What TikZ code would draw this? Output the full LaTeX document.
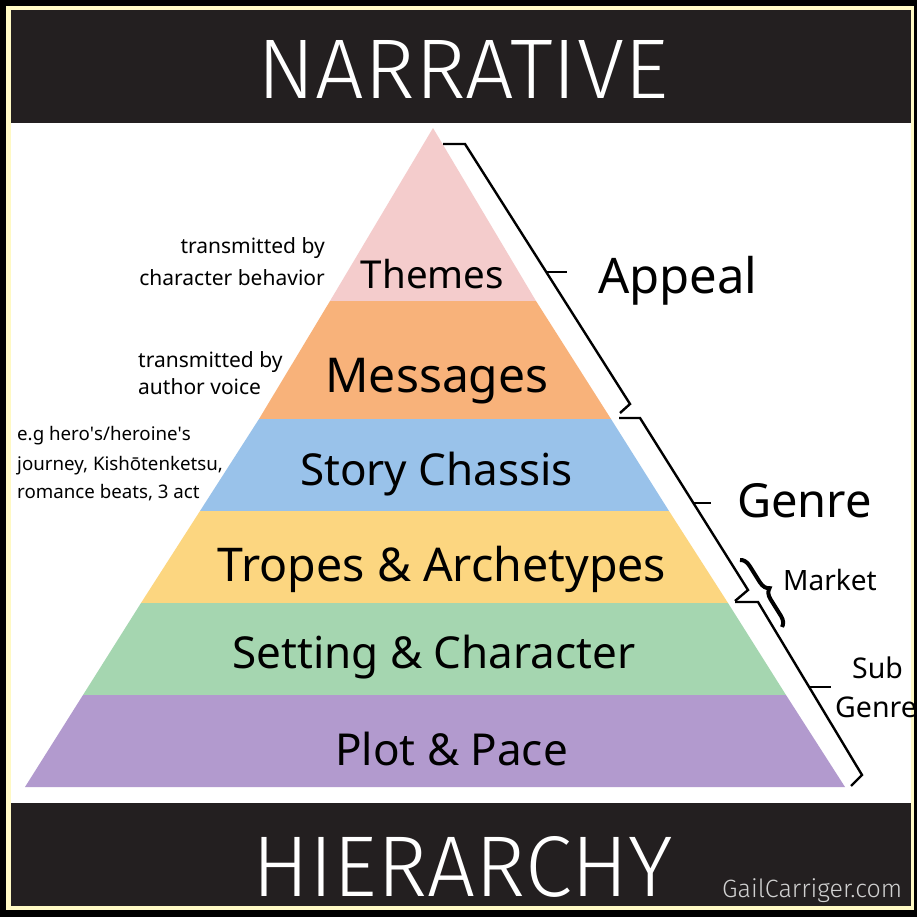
\documentclass[tikz,border=0pt]{standalone}
\usepackage{fontspec}
\setmainfont{Noto Sans}
\IfFontExistsTF{Fira Sans Light}
  {\newfontfamily\bannerfont{Fira Sans Light}}
  {\newfontfamily\bannerfont{Noto Sans}}
\usetikzlibrary{decorations.pathreplacing,positioning}

\definecolor{themepink}{RGB}{244,204,204}
\definecolor{msgorange}{RGB}{248,178,122}
\definecolor{chassisblue}{RGB}{153,194,234}
\definecolor{tropeyellow}{RGB}{252,214,128}
\definecolor{settinggreen}{RGB}{165,214,176}
\definecolor{plotpurple}{RGB}{178,154,206}
\definecolor{bannerdark}{RGB}{35,31,32}
\definecolor{rimyellow}{RGB}{255,249,196}

\tikzset{x=1pt,y=-1pt}
\tikzset{layer text/.style={anchor=base,inner sep=0pt,font=\fontsize{#1}{#1}\selectfont}}
\tikzset{note right/.style={anchor=base east,inner sep=0pt,font=\fontsize{21}{26}\selectfont}}
\tikzset{note left/.style={anchor=base west,inner sep=0pt,font=\fontsize{#1}{#1}\selectfont}}
\tikzset{bracket/.style={draw=black,line width=2.4pt,line join=miter}}
\tikzset{banner/.style={fill=bannerdark}}

\begin{document}
\begin{tikzpicture}
    \useasboundingbox (0,0) rectangle (917,917);
    % frame and banners
    \fill[black] (0,0) rectangle (917,917);
    \fill[rimyellow] (6,6) rectangle (914,910);
    \fill[white] (11,10) rectangle (911,906);
    \fill[banner] (11,10) rectangle (911,123);
    \fill[banner] (11,803) rectangle (911,906);
    \node[inner sep=0pt,text=white] (title) at (463,69)
        {\resizebox{410pt}{58pt}{\bannerfont NARRATIVE}};
    \node[inner sep=0pt,text=white] (subtitle) at (463,867)
        {\resizebox{420pt}{60pt}{\bannerfont HIERARCHY}};
    \node[anchor=base west,inner sep=0pt,text=black!18] (site) at (722,897)
        {\resizebox{180pt}{!}{\bannerfont GailCarriger.com}};

    % pyramid layers
    \fill[themepink] (433,128) -- (536,301) -- (330,301) -- cycle;
    \fill[msgorange] (330,301) -- (536,301) -- (611,419) -- (259,419) -- cycle;
    \fill[chassisblue] (259,419) -- (611,419) -- (669,511) -- (200,511) -- cycle;
    \fill[tropeyellow] (200,511) -- (669,511) -- (728,603) -- (141,603) -- cycle;
    \fill[settinggreen] (141,603) -- (728,603) -- (786,695) -- (83,695) -- cycle;
    \fill[plotpurple] (83,695) -- (786,695) -- (845,787) -- (25,787) -- cycle;

    \node[layer text=38.5] (themes) at (432.5,288) {Themes};
    \node[layer text=48] (messages) at (437,392) {Messages};
    \node[layer text=44] (chassis) at (436.5,485) {Story Chassis};
    \node[layer text=46.5] (tropes) at (442,581) {Tropes \& Archetypes};
    \node[layer text=44] (setting) at (434,668) {Setting \& Character};
    \node[layer text=44] (plot) at (451.5,765) {Plot \& Pace};

    % notes on the left
    \node[note right] (themenote1) at (325,253) {transmitted by};
    \node[note right] (themenote2) at (325,285) {character behavior};
    \node[note left=21] (msgnote1) at (138,367) {transmitted by};
    \node[note left=21] (msgnote2) at (138,394) {author voice};
    \node[note left=18.7] (chassisnote1) at (17,440) {e.g hero\textquotesingle s/heroine\textquotesingle s};
    \node[note left=18.7] (chassisnote2) at (17,470) {journey, Kishōtenketsu,};
    \node[note left=18.7] (chassisnote3) at (17,498) {romance beats, 3 act};

    % brackets on the right
    \coordinate (appealtop) at (465,144);
    \coordinate (appealend) at (630,404);
    \coordinate (appealtick) at (546,272);
    \coordinate (genretop) at (640,418);
    \coordinate (genreend) at (748,590);
    \coordinate (genretick) at (693,503);
    \coordinate (subtop) at (758,602);
    \coordinate (subend) at (862,775);
    \coordinate (subtick) at (810,687);
    \draw[bracket] ([xshift=-22pt]appealtop) -- (appealtop) -- (appealend) -- ++(-10,9);
    \draw[bracket] (appealtick) -- ++(21,0);
    \draw[bracket] ([xshift=-21pt]genretop) -- (genretop) -- (genreend) -- ++(-13,11);
    \draw[bracket] (genretick) -- ++(18,0);
    \draw[bracket] ([xshift=-23pt]subtop) -- (subtop) -- (subend) -- ++(-11,11);
    \draw[bracket] (subtick) -- ++(21,0);
    \coordinate (marketa) at (740,560);
    \coordinate (marketb) at (782,627);
    \draw[line width=4pt,decorate,decoration={brace,amplitude=10pt}] (marketa) -- (marketb);

    \node[anchor=base west,inner sep=0pt,font=\fontsize{49}{49}\selectfont] (appeal) at (598,293) {Appeal};
    \node[anchor=base west,inner sep=0pt,font=\fontsize{47}{47}\selectfont] (genre) at (737,517) {Genre};
    \node[note left=28] (market) at (783,590) {Market};
    \node[note left=28.5] (sub) at (852,678) {Sub};
    \node[note left=28.5] (subgenre) at (835,717) {Genre};
\end{tikzpicture}
\end{document}
